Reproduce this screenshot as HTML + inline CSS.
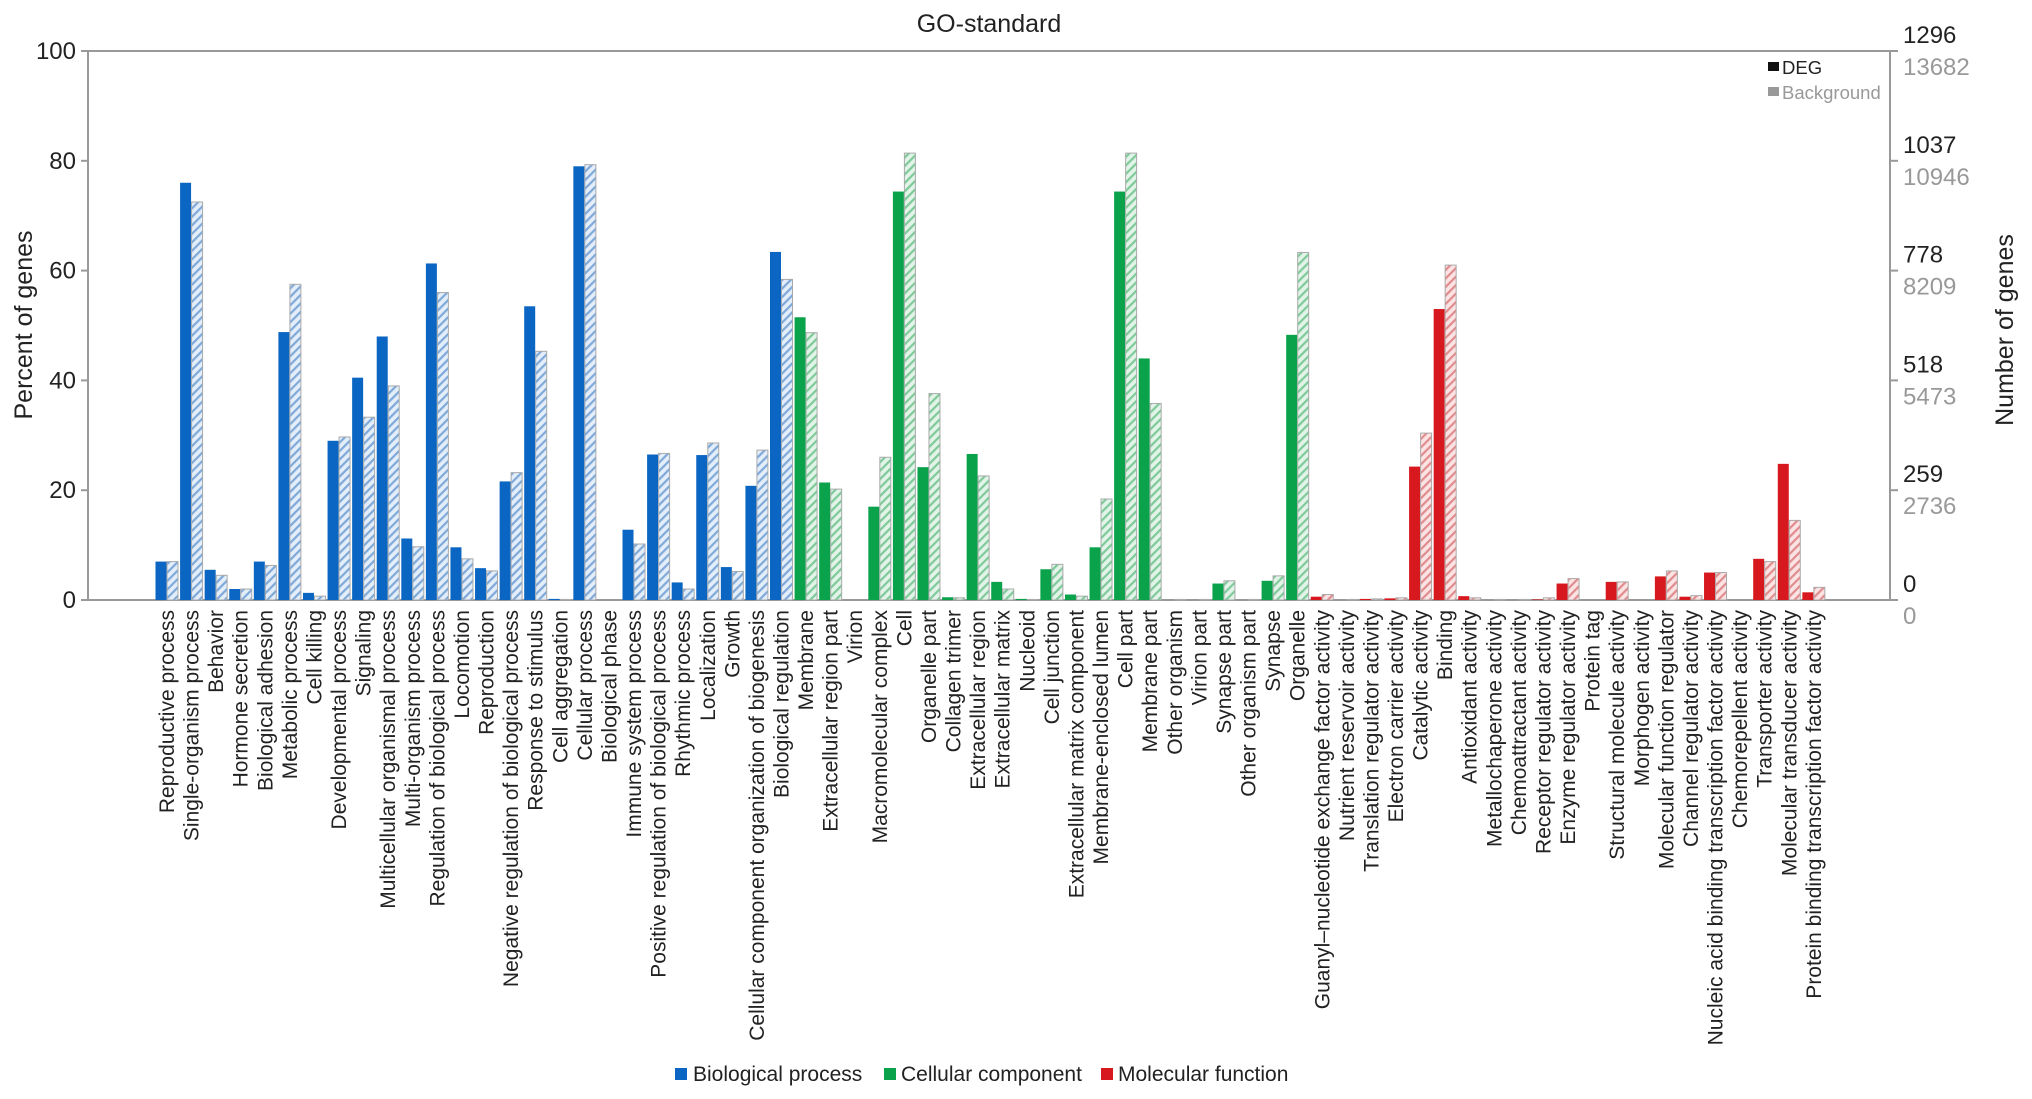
<!DOCTYPE html>
<html><head><meta charset="utf-8"><style>
html,body{margin:0;padding:0;background:#fff;}
svg{display:block;font-family:"Liberation Sans",Arial,sans-serif;}
</style></head><body>
<svg id="chart" width="2032" height="1099" xmlns="http://www.w3.org/2000/svg">
<defs>
<pattern id="hb" patternUnits="userSpaceOnUse" width="6" height="6" patternTransform="rotate(45)"><rect width="6" height="6" fill="#e3eefa"/><rect width="2.2" height="6" fill="#7fa9d8"/></pattern>
<pattern id="hg" patternUnits="userSpaceOnUse" width="6" height="6" patternTransform="rotate(45)"><rect width="6" height="6" fill="#e2f4e8"/><rect width="2.2" height="6" fill="#7fc99a"/></pattern>
<pattern id="hr" patternUnits="userSpaceOnUse" width="6" height="6" patternTransform="rotate(45)"><rect width="6" height="6" fill="#fbe3e3"/><rect width="2.2" height="6" fill="#e08c8e"/></pattern>
</defs>
<text x="989" y="32" font-size="25" text-anchor="middle" fill="#222">GO-standard</text>
<text transform="translate(32,325) rotate(-90)" font-size="25" text-anchor="middle" fill="#222">Percent of genes</text>
<text transform="translate(2013,330) rotate(-90)" font-size="25" text-anchor="middle" fill="#222">Number of genes</text>
<g id="axes"></g>
<g id="bars"></g>
<g id="labels"></g>
<g>
<rect x="1768" y="62" width="11" height="9" fill="#111"/>
<text x="1782" y="74" font-size="18.5" fill="#222">DEG</text>
<rect x="1768" y="87" width="11" height="9" fill="#999"/>
<text x="1782" y="99" font-size="18.5" fill="#999">Background</text>
</g>
<g>
<rect x="675" y="1068" width="12" height="12" fill="#0a66c2"/>
<text x="693" y="1081" font-size="21" fill="#222">Biological process</text>
<rect x="884" y="1068" width="12" height="12" fill="#0aa24b"/>
<text x="901" y="1081" font-size="21" fill="#222">Cellular component</text>
<rect x="1101" y="1068" width="12" height="12" fill="#d7191f"/>
<text x="1118" y="1081" font-size="21" fill="#222">Molecular function</text>
</g>
</svg>
<script>
const categories = ["Reproductive process","Single-organism process","Behavior","Hormone secretion","Biological adhesion","Metabolic process","Cell killing","Developmental process","Signaling","Multicellular organismal process","Multi-organism process","Regulation of biological process","Locomotion","Reproduction","Negative regulation of biological process","Response to stimulus","Cell aggregation","Cellular process","Biological phase","Immune system process","Positive regulation of biological process","Rhythmic process","Localization","Growth","Cellular component organization of biogenesis","Biological regulation",
"Membrane","Extracellular region part","Virion","Macromolecular complex","Cell","Organelle part","Collagen trimer","Extracellular region","Extracellular matrix","Nucleoid","Cell junction","Extracellular matrix component","Membrane-enclosed lumen","Cell part","Membrane part","Other organism","Virion part","Synapse part","Other organism part","Synapse","Organelle",
"Guanyl\u2013nucleotide exchange factor activity","Nutrient reservoir activity","Translation regulator activity","Electron carrier activity","Catalytic activity","Binding","Antioxidant activity","Metallochaperone activity","Chemoattractant activity","Receptor regulator activity","Enzyme regulator activity","Protein tag","Structural molecule activity","Morphogen activity","Molecular function regulator","Channel regulator activity","Nucleic acid binding transcription factor activity","Chemorepellent activity","Transporter activity","Molecular transducer activity","Protein binding transcription factor activity"];
const groups = [0,0,0,0,0,0,0,0,0,0,0,0,0,0,0,0,0,0,0,0,0,0,0,0,0,0, 1,1,1,1,1,1,1,1,1,1,1,1,1,1,1,1,1,1,1,1,1, 2,2,2,2,2,2,2,2,2,2,2,2,2,2,2,2,2,2,2,2,2];
const degValues = [7,76,5.5,2,7,48.8,1.3,29,40.5,48,11.2,61.3,9.6,5.8,21.6,53.5,0.2,79,0,12.8,26.5,3.2,26.4,6,20.8,63.4,
51.5,21.4,0,17,74.4,24.2,0.5,26.6,3.3,0.2,5.6,1,9.6,74.4,44,0,0,3,0,3.5,48.3,
0.6,0,0.2,0.3,24.3,53,0.7,0,0,0.1,3,0,3.3,0,4.3,0.6,5,0,7.5,24.8,1.4];
const bgValues = [7,72.5,4.5,2,6.3,57.5,0.7,29.7,33.3,39,9.7,56,7.5,5.3,23.2,45.3,0.1,79.3,0,10.2,26.7,2,28.6,5.2,27.3,58.4,
48.7,20.2,0,26,81.4,37.6,0.4,22.6,2,0.1,6.5,0.7,18.4,81.4,35.8,0.1,0.1,3.5,0.1,4.4,63.3,
1,0.1,0.2,0.4,30.4,61,0.4,0.1,0.1,0.4,3.9,0,3.3,0,5.3,0.8,5,0,7,14.5,2.3];
const leftTicks = [0,20,40,60,80,100];
const rightDegTicks = ["0","259","518","778","1037","1296"];
const rightBgTicks = ["0","2736","5473","8209","10946","13682"];

const NS="http://www.w3.org/2000/svg";
const X0=88, X1=1890, Y0=600, Y1=51, first=166.5, step=24.58, bw=11;
const y = v => Y0 - (v/100)*(Y0-Y1);
const xc = i => first + i*step;
const solid=["#0a66c2","#0aa24b","#d7191f"], hatch=["url(#hb)","url(#hg)","url(#hr)"];
function mk(tag, attrs, parent){const e=document.createElementNS(NS,tag);for(const k in attrs)e.setAttribute(k,attrs[k]);parent.appendChild(e);return e;}
const axes=document.getElementById('axes'), bars=document.getElementById('bars'), labels=document.getElementById('labels');
let e;
e=mk('line',{x1:X0,y1:Y1,x2:X1,y2:Y1,stroke:'#999','stroke-width':2},axes);


e=mk('line',{x1:X0,y1:Y1,x2:X0,y2:Y0,stroke:'#999','stroke-width':2},axes);


e=mk('line',{x1:X1,y1:Y1,x2:X1,y2:Y0,stroke:'#999','stroke-width':2},axes);


e=mk('line',{x1:X0,y1:Y0,x2:X1+8,y2:Y0,stroke:'#999','stroke-width':2},axes);


leftTicks.forEach((t,i)=>{
  const yy=y(t);
  e=mk('line',{x1:X0-7,y1:yy,x2:X0,y2:yy,stroke:'#999','stroke-width':2},axes);
  
  
  e=mk('text',{x:X0-12,y:yy+8,'font-size':24,'text-anchor':'end',fill:'#222'},axes);
  e.textContent=t;
  
  
  e=mk('line',{x1:X1,y1:yy,x2:X1+8,y2:yy,stroke:'#999','stroke-width':2},axes);
  
  
  e=mk('text',{x:1903,y:yy-8,'font-size':24,fill:'#222'},axes);
  e.textContent=rightDegTicks[i];
  
  
  e=mk('text',{x:1903,y:yy+24,'font-size':24,fill:'#999'},axes);
  e.textContent=rightBgTicks[i];
  
  
});
categories.forEach((c,i)=>{
  const g=groups[i], cx=xc(i);
  const dv=degValues[i], bv=bgValues[i];
  e=mk('rect',{x:cx-bw,y:y(dv),width:bw,height:Y0-y(dv),fill:solid[g]},bars);
  
  
  e=mk('rect',{x:cx+0.5,y:y(bv),width:bw,height:Y0-y(bv),fill:hatch[g],stroke:'#aaa','stroke-width':1},bars);
  
  
  e=mk('text',{transform:`translate(${cx+7.5},610) rotate(-90)`,'font-size':21,'text-anchor':'end',fill:'#222'},labels);
  e.textContent=c;
  
  
});
</script>
</body></html>
